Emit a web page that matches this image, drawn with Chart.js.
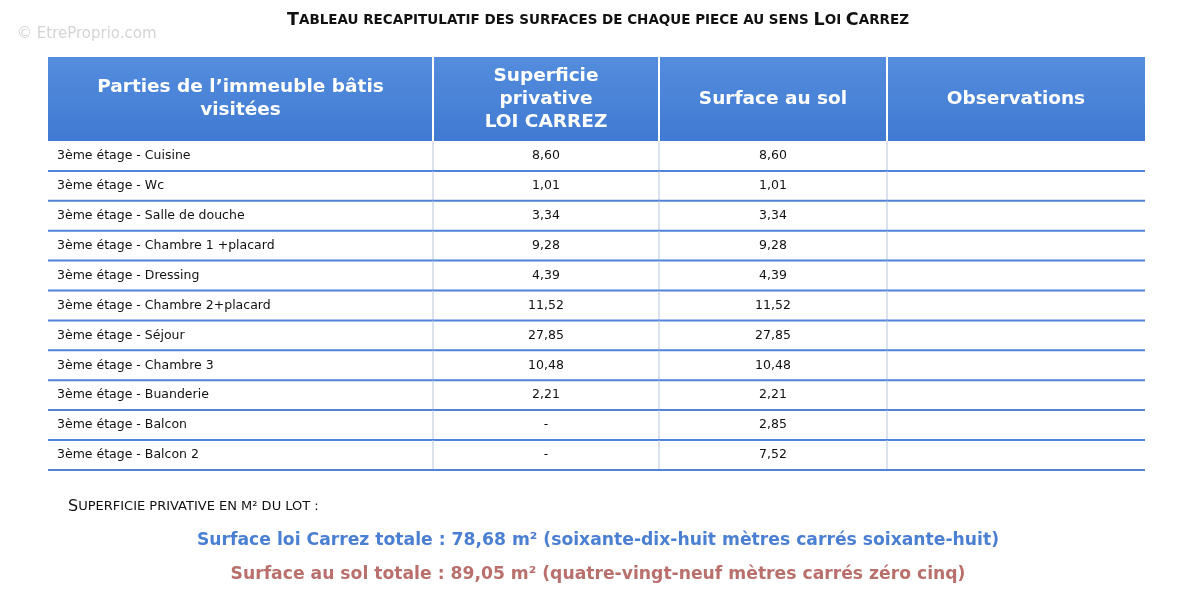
<!DOCTYPE html>
<html><head><meta charset="utf-8">
<script src="https://cdn.jsdelivr.net/npm/chart.js@4"></script>
<style>html,body{margin:0;background:#fff}#c{width:1200px;height:592px}</style>
</head><body><div id="c"><canvas id="cv"></canvas></div>
<script>
const colonnes = ['Parties de l\u2019immeuble bâtis\nvisitées', 'Superficie\nprivative\nLOI CARREZ', 'Surface au sol', 'Observations'];
const pieces = ['3ème étage - Cuisine', '3ème étage - Wc', '3ème étage - Salle de douche', '3ème étage - Chambre 1 +placard',
  '3ème étage - Dressing', '3ème étage - Chambre 2+placard', '3ème étage - Séjour', '3ème étage - Chambre 3',
  '3ème étage - Buanderie', '3ème étage - Balcon', '3ème étage - Balcon 2'];
const carrez = ['8,60', '1,01', '3,34', '9,28', '4,39', '11,52', '27,85', '10,48', '2,21', '-', '-'];
const sol = ['8,60', '1,01', '3,34', '9,28', '4,39', '11,52', '27,85', '10,48', '2,21', '2,85', '7,52'];
const titre = 'Tableau recapitulatif des surfaces de chaque piece au sens Loi Carrez';
const sousTitre = 'Superficie privative en m² du lot :';
const totalCarrez = 'Surface loi Carrez totale : 78,68 m² (soixante-dix-huit mètres carrés soixante-huit)';
const totalSol = 'Surface au sol totale : 89,05 m² (quatre-vingt-neuf mètres carrés zéro cinq)';

const F = '"DejaVu Sans", Verdana, sans-serif';

// petites capitales : initiale grande, reste en majuscules réduites
function smallCaps(ctx, txt, x, y, big, small, center, weight) {
  const parts = [];
  txt.split(' ').forEach((w, i) => {
    if (i) parts.push([' ', small]);
    const cap = w[0] === w[0].toUpperCase() && /[A-Za-z]/.test(w[0]);
    if (cap) { parts.push([w[0], big]); if (w.length > 1) parts.push([w.slice(1).toUpperCase(), small]); }
    else parts.push([w.toUpperCase(), small]);
  });
  let tot = 0;
  parts.forEach(p => { ctx.font = weight + ' ' + p[1] + 'px ' + F; tot += ctx.measureText(p[0]).width; });
  let cx = center ? x - tot / 2 : x;
  ctx.textAlign = 'left';
  parts.forEach(p => { ctx.font = weight + ' ' + p[1] + 'px ' + F; ctx.fillText(p[0], cx, y); cx += ctx.measureText(p[0]).width; });
}

const tablePlugin = {
  id: 'tableau',
  afterDraw(chart) {
    const ctx = chart.ctx, X = v => chart.scales.x.getPixelForValue(v), Y = v => chart.scales.y.getPixelForValue(v);
    const bords = [48, 433, 659, 887, 1145];
    const hTop = 57, hBot = 141, rowH = 29.9;
    ctx.save();
    ctx.textBaseline = 'middle';
    // filigrane
    ctx.fillStyle = '#d4d4d4'; ctx.font = '15px ' + F; ctx.textAlign = 'left';
    ctx.fillText('© EtreProprio.com', X(17), Y(34));
    // titre
    ctx.fillStyle = '#111';
    smallCaps(ctx, titre, X(598), Y(20), 17.5, 13.5, true, 'bold');
    // en-tête
    const g = ctx.createLinearGradient(0, Y(hTop), 0, Y(hBot));
    g.addColorStop(0, '#548ddd'); g.addColorStop(1, '#407ad2');
    ctx.fillStyle = g;
    ctx.fillRect(X(bords[0]), Y(hTop), X(bords[4]) - X(bords[0]), Y(hBot) - Y(hTop));
    ctx.strokeStyle = '#fff'; ctx.lineWidth = 2;
    for (let i = 1; i < 4; i++) { ctx.beginPath(); ctx.moveTo(X(bords[i]), Y(hTop)); ctx.lineTo(X(bords[i]), Y(hBot)); ctx.stroke(); }
    ctx.fillStyle = '#fff'; ctx.font = 'bold 18.5px ' + F; ctx.textAlign = 'center';
    colonnes.forEach((c, i) => {
      const l = c.split('\n'), cx = (X(bords[i]) + X(bords[i + 1])) / 2, mid = Y(99);
      l.forEach((t, k) => ctx.fillText(t, cx, mid + (k - (l.length - 1) / 2) * 23));
    });
    // lignes
    pieces.forEach((p, i) => {
      const t = hBot + i * rowH, m = Y(t + rowH / 2), b = Y(t + rowH);
      ctx.strokeStyle = '#b8c6e0'; ctx.lineWidth = 1;
      for (let k = 1; k < 4; k++) { ctx.beginPath(); ctx.moveTo(X(bords[k]), Y(t)); ctx.lineTo(X(bords[k]), b); ctx.stroke(); }
      ctx.strokeStyle = '#4f82d8'; ctx.lineWidth = 2;
      ctx.beginPath(); ctx.moveTo(X(bords[0]), b); ctx.lineTo(X(bords[4]), b); ctx.stroke();
      ctx.fillStyle = '#111'; ctx.font = '12.5px ' + F;
      ctx.textAlign = 'left'; ctx.fillText(p, X(57), m);
      ctx.textAlign = 'center';
      ctx.fillText(carrez[i], (X(bords[1]) + X(bords[2])) / 2, m);
      ctx.fillText(sol[i], (X(bords[2]) + X(bords[3])) / 2, m);
    });
    // totaux
    ctx.fillStyle = '#111';
    smallCaps(ctx, sousTitre, X(68), Y(507), 16, 13, false, 'normal');
    ctx.textAlign = 'center'; ctx.font = 'bold 17.2px ' + F;
    ctx.fillStyle = '#4a7fd2'; ctx.fillText(totalCarrez, X(598), Y(541));
    ctx.fillStyle = '#b9706c'; ctx.fillText(totalSol, X(598), Y(575));
    ctx.restore();
  }
};

new Chart(document.getElementById('cv'), {
  type: 'scatter',
  data: { datasets: [{ data: [] }] },
  options: {
    responsive: true, maintainAspectRatio: false, animation: false,
    layout: { padding: 0 },
    plugins: { legend: { display: false }, tooltip: { enabled: false } },
    scales: {
      x: { type: 'linear', min: 0, max: 1200, display: false },
      y: { type: 'linear', min: 0, max: 592, reverse: true, display: false }
    }
  },
  plugins: [tablePlugin]
});
</script></body></html>
